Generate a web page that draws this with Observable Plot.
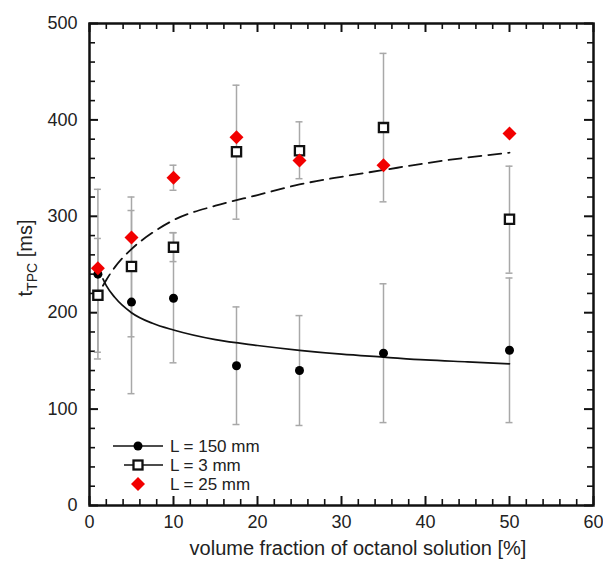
<!DOCTYPE html>
<html><head><meta charset="utf-8">
<script src="https://cdn.jsdelivr.net/npm/d3@7"></script>
<script src="https://cdn.jsdelivr.net/npm/@observablehq/plot@0.6"></script>
<style>body{margin:0;background:#fff}</style>
</head><body><div id="chart"></div>
<script>
// ---- data ----
const xs = [1, 5, 10, 17.5, 25, 35, 50];
// L = 150 mm (filled circles)
const L150 = [240, 211, 215, 145, 140, 158, 161];
const L150Lo = [152, 116, 148, 84, 83, 86, 86];
const L150Hi = [328, 306, 283, 206, 197, 230, 236];
// L = 3 mm (open squares)
const L3 = [218, 248, 268, 367, 368, 392, 297];
const L3Lo = [159, 175, 253, 297, 339, 315, 241];
const L3Hi = [277, 320, 283, 436, 398, 469, 352];
// L = 25 mm (red diamonds)
const L25 = [246, 278, 340, 382, 358, 353, 386];
const L25Lo = [null, null, 327, null, null, null, null];
const L25Hi = [null, null, 353, null, null, null, null];
// fitted curves
const fitX = [1.6, 2, 3, 5, 7.5, 10, 15, 20, 25, 30, 35, 40, 45, 50];
const fit150 = [235, 228, 216, 200, 189, 182, 172, 166, 161, 157, 154, 151, 149, 147];
const fit3 = [228, 234, 247, 266, 283, 296, 311, 322, 333, 341, 348, 355, 361, 366];
// ticks
const xMajor = [0, 10, 20, 30, 40, 50, 60];
const yMajor = [0, 100, 200, 300, 400, 500];
const xMinor = d3.range(0, 61, 2).filter(v => v % 10 !== 0);
const yMinor = d3.range(0, 501, 20).filter(v => v % 100 !== 0);
const legendLabels = ["L = 150 mm", "L = 3 mm", "L = 25 mm"];
const xTitle = "volume fraction of octanol solution [%]";

// ---- layout ----
const W = 603, H = 562, mL = 89, mR = 10, mT = 23, mB = 57;
const pw = W - mL - mR, ph = H - mT - mB;
const font = "'Liberation Sans', Arial, Helvetica, sans-serif";
const ink = "#111", grey = "#a8a8a8", red = "#f20000";

const errRows = [];
xs.forEach((x, i) => {
  errRows.push({x, lo: L150Lo[i], hi: L150Hi[i]});
  errRows.push({x, lo: L3Lo[i], hi: L3Hi[i]});
  if (L25Lo[i] != null) errRows.push({x, lo: L25Lo[i], hi: L25Hi[i]});
});
const caps = errRows.flatMap(d => [{x: d.x, v: d.lo}, {x: d.x, v: d.hi}]);
const pts = (ys) => xs.map((x, i) => ({x, y: ys[i]}));
const fitRows = (ys) => fitX.map((x, i) => ({x, y: ys[i]}));

const plot = Plot.plot({
  width: W, height: H,
  marginLeft: mL, marginRight: mR, marginTop: mT, marginBottom: mB,
  style: {fontFamily: font, fontSize: "18px", color: "#222", background: "#fff"},
  x: {domain: [0, 60]},
  y: {domain: [0, 500]},
  marks: [
    Plot.axisX(xMajor, {tickSize: 0, tickPadding: 10, fontSize: 18, label: null}),
    Plot.axisY(yMajor, {tickSize: 0, tickPadding: 12, fontSize: 18, label: null}),
    // inward ticks on all four sides
    Plot.tickX(xMajor, {x: d => d, insetTop: ph - 9, stroke: ink, strokeWidth: 2}),
    Plot.tickX(xMinor, {x: d => d, insetTop: ph - 6, stroke: ink, strokeWidth: 1.6}),
    Plot.tickX(xMajor, {x: d => d, insetBottom: ph - 9, stroke: ink, strokeWidth: 2}),
    Plot.tickX(xMinor, {x: d => d, insetBottom: ph - 6, stroke: ink, strokeWidth: 1.6}),
    Plot.tickY(yMajor, {y: d => d, insetRight: pw - 9, stroke: ink, strokeWidth: 2}),
    Plot.tickY(yMinor, {y: d => d, insetRight: pw - 6, stroke: ink, strokeWidth: 1.6}),
    Plot.tickY(yMajor, {y: d => d, insetLeft: pw - 9, stroke: ink, strokeWidth: 2}),
    Plot.tickY(yMinor, {y: d => d, insetLeft: pw - 6, stroke: ink, strokeWidth: 1.6}),
    // error bars
    Plot.ruleX(errRows, {x: "x", y1: "lo", y2: "hi", stroke: grey, strokeWidth: 1.5}),
    Plot.ruleY(caps, {y: "v", x1: "x", x2: "x", insetLeft: -3.5, insetRight: -3.5, stroke: grey, strokeWidth: 1.5}),
    // fit curves
    Plot.line(fitRows(fit150), {x: "x", y: "y", stroke: ink, strokeWidth: 1.7, curve: "monotone-x"}),
    Plot.line(fitRows(fit3), {x: "x", y: "y", stroke: ink, strokeWidth: 1.8, strokeDasharray: "13,7", curve: "monotone-x"}),
    // points
    Plot.dot(pts(L3), {x: "x", y: "y", symbol: "square", r: 5.2, fill: "#fff", stroke: ink, strokeWidth: 2.3}),
    Plot.dot(pts(L150), {x: "x", y: "y", r: 4.5, fill: "#000"}),
    Plot.dot(pts(L25), {x: "x", y: "y", symbol: "diamond2", r: 6.3, fill: red}),
    Plot.frame({stroke: ink, strokeWidth: 2.5})
  ]
});

const svg = d3.select(plot);
// legend
const lg = svg.append("g").attr("font-family", font).attr("font-size", 17).attr("fill", "#222");
const rowsY = [446, 465, 484];
lg.append("line").attr("x1", 113).attr("x2", 163).attr("y1", rowsY[0]).attr("y2", rowsY[0]).attr("stroke", ink).attr("stroke-width", 1.7);
lg.append("circle").attr("cx", 138).attr("cy", rowsY[0]).attr("r", 4.5).attr("fill", "#000");
lg.append("line").attr("x1", 124).attr("x2", 163).attr("y1", rowsY[1]).attr("y2", rowsY[1]).attr("stroke", ink).attr("stroke-width", 1.7);
lg.append("rect").attr("x", 133.5).attr("y", rowsY[1] - 4.5).attr("width", 9).attr("height", 9).attr("fill", "#fff").attr("stroke", ink).attr("stroke-width", 2.3);
lg.append("path").attr("transform", `translate(138,${rowsY[2]})`).attr("d", d3.symbol(d3.symbolDiamond2, Math.PI * 6.3 * 6.3)()).attr("fill", red);
legendLabels.forEach((t, i) => {
  lg.append("text").attr("x", 170).attr("y", rowsY[i]).attr("dy", "0.36em").attr("text-anchor", "start").text(t);
});
// axis titles
svg.append("text").attr("x", 358).attr("y", 555).attr("text-anchor", "middle")
  .attr("font-family", font).attr("font-size", 20).attr("fill", "#222").text(xTitle);
const yl = svg.append("text").attr("transform", "translate(32,258) rotate(-90)")
  .attr("text-anchor", "middle").attr("font-family", font).attr("font-size", 20).attr("fill", "#222");
yl.append("tspan").text("t");
yl.append("tspan").attr("font-size", 14).attr("dy", 5).text("TPC");
yl.append("tspan").attr("dy", -5).text(" [ms]");

document.getElementById("chart").appendChild(plot);
</script>
</body></html>
